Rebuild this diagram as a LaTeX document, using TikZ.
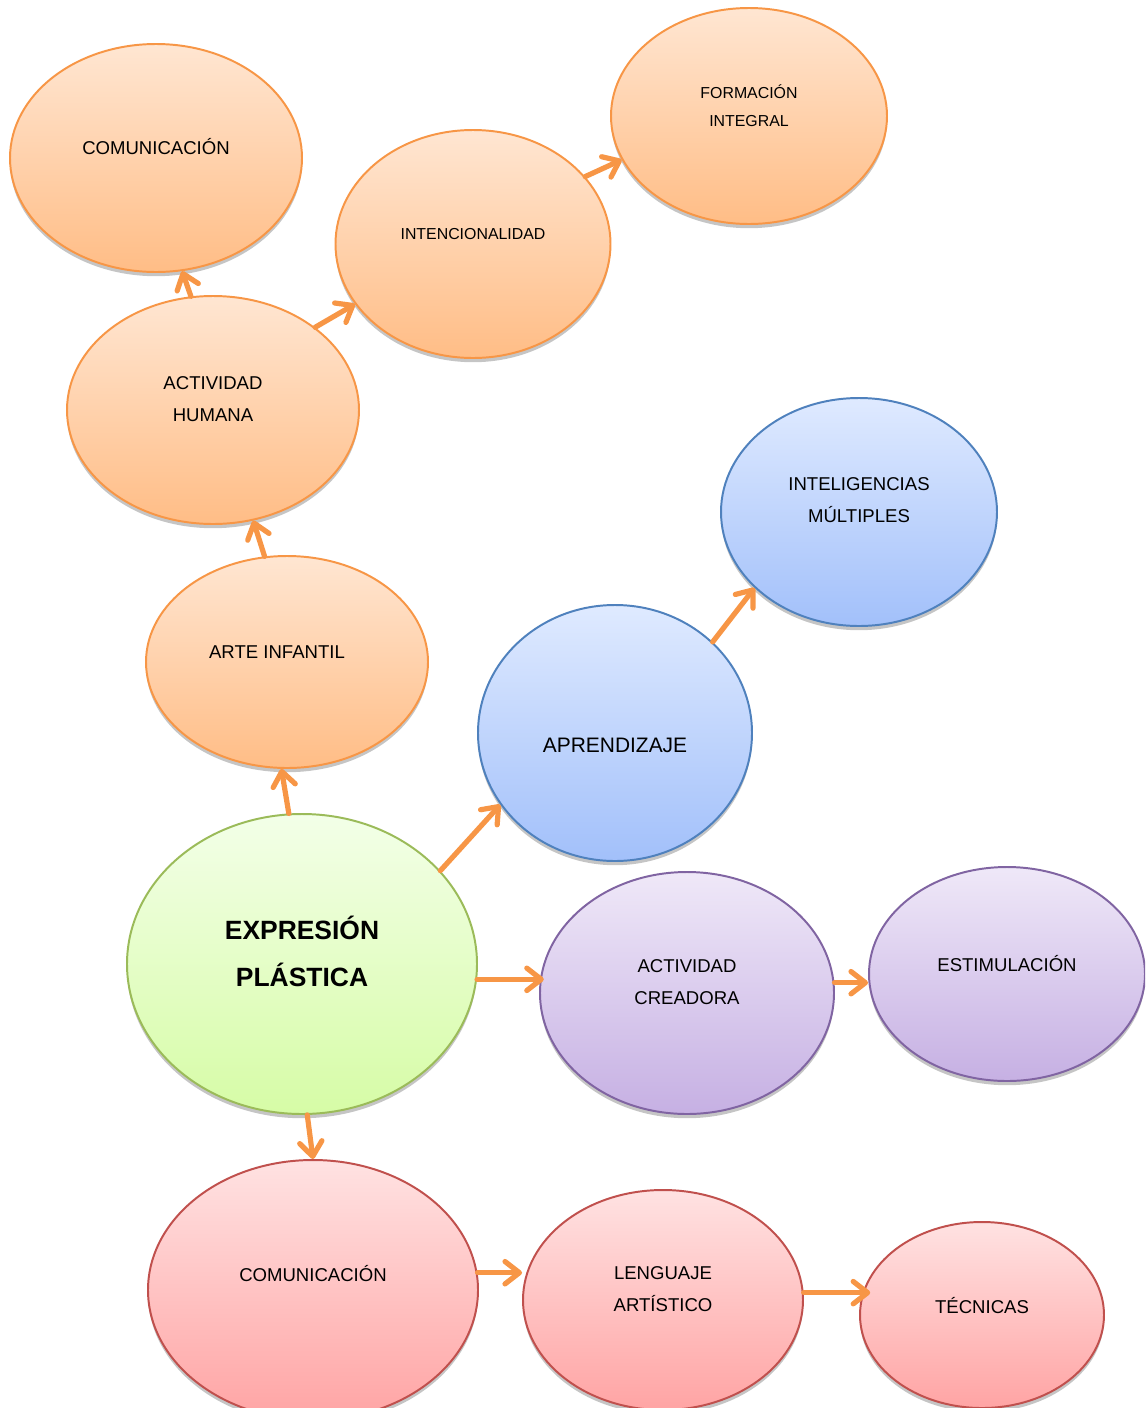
\documentclass[tikz,border=0pt]{standalone}
\usepackage{fontspec}
\setmainfont{Liberation Sans}
\usepackage{tikz}
\usetikzlibrary{arrows.meta,shadows,positioning,shapes.geometric}

\begin{document}
\begin{tikzpicture}
[x=0.025cm,y=-0.025cm,line cap=round,
% Styles
ellipse size/.style 2 args={minimum width=#1*0.025cm,minimum height=#2*0.025cm},
bubble/.style={ellipse,draw=#1line,line width=1.4pt,top color=#1top,bottom color=#1bottom,
  inner sep=0pt,drop shadow={shadow xshift=0pt,shadow yshift=-3pt,fill=black!45,opacity=.5}},
bubble text/.style={align=center,font=\fontsize{13.2pt}{22.8pt}\selectfont},
small text/.style={align=center,font=\fontsize{11.3pt}{20pt}\selectfont},
arrow line/.style={-{Straight Barb[length=3.6mm,width=5.6mm,round]},line width=3.7pt,arrowcolor}]
% Colors
\definecolor{orangetop}{HTML}{FFE6D2}
\definecolor{orangebottom}{HTML}{FFBD86}
\definecolor{orangeline}{HTML}{F79646}
\definecolor{bluetop}{HTML}{DFEAFF}
\definecolor{bluebottom}{HTML}{A2C0FA}
\definecolor{blueline}{HTML}{4F81BD}
\definecolor{purpletop}{HTML}{EFE8F8}
\definecolor{purplebottom}{HTML}{C6B0E3}
\definecolor{purpleline}{HTML}{8064A2}
\definecolor{greentop}{HTML}{F3FFE8}
\definecolor{greenbottom}{HTML}{D6FCA6}
\definecolor{greenline}{HTML}{9BBB59}
\definecolor{redtop}{HTML}{FFE2E2}
\definecolor{redbottom}{HTML}{FFA4A4}
\definecolor{redline}{HTML}{C0504D}
\definecolor{arrowcolor}{HTML}{F79646}
\useasboundingbox (0,0) rectangle (1145,1408);
\clip (0,0) rectangle (1145,1408);
% The bubbles
\node[bubble=orange,ellipse size={292}{228}] (com top) at (156,158) {};
\node[bubble=orange,ellipse size={275}{228}] (intencion) at (473,244) {};
\node[bubble=orange,ellipse size={276}{216}] (formacion) at (749,116) {};
\node[bubble=orange,ellipse size={292}{228}] (humana) at (213,410) {};
\node[bubble=blue,ellipse size={276}{228}] (inteligencias) at (859,512) {};
\node[bubble=orange,ellipse size={282}{212}] (arte) at (287,662) {};
\node[bubble=blue,ellipse size={274}{256}] (aprendizaje) at (615,733) {};
\node[bubble=green,ellipse size={350}{300}] (expresion) at (302,964) {};
\node[bubble=purple,ellipse size={294}{242}] (creadora) at (687,993) {};
\node[bubble=purple,ellipse size={276}{214}] (estimulo) at (1007,974) {};
\node[bubble=red,ellipse size={330}{260}] (com bottom) at (313,1290) {};
\node[bubble=red,ellipse size={280}{220}] (lenguaje) at (663,1300) {};
\node[bubble=red,ellipse size={244}{186}] (tecnicas) at (982,1315) {};
% The texts
\node[bubble text] (com top text) at (156,147) {COMUNICACIÓN};
\node[small text] (intencion text) at (473,234) {INTENCIONALIDAD};
\node[small text] (formacion text) at (749,106) {FORMACIÓN\\INTEGRAL};
\node[bubble text] (humana text) at (213,399) {ACTIVIDAD\\HUMANA};
\node[bubble text] (inteligencias text) at (859,500) {INTELIGENCIAS\\MÚLTIPLES};
\node[bubble text] (arte text) at (277,652) {ARTE INFANTIL};
\node[bubble text,font=\fontsize{14.9pt}{18pt}\selectfont] (aprendizaje text) at (615,745) {APRENDIZAJE};
\node[align=center,font=\fontsize{18.8pt}{33.4pt}\selectfont\bfseries] (expresion text) at (302,951) {EXPRESIÓN\\PLÁSTICA};
\node[bubble text] (creadora text) at (687,982) {ACTIVIDAD\\CREADORA};
\node[bubble text] (estimulo text) at (1007,964) {ESTIMULACIÓN};
\node[bubble text] (com bottom text) at (313,1274) {COMUNICACIÓN};
\node[bubble text] (lenguaje text) at (663,1289) {LENGUAJE\\ARTÍSTICO};
\node[bubble text] (tecnicas text) at (982,1306) {TÉCNICAS};
% The arrows
\draw[arrow line] (expresion.95) -- (arte.267);
\draw[arrow line] (arte.102) -- (humana.290);
\draw[arrow line] (humana.101) -- (com top.283);
\draw[arrow line] (humana.39) -- (intencion.207);
\draw[arrow line] (intencion.31) -- (formacion.199);
\draw[arrow line] (expresion.34) -- (aprendizaje.212);
\draw[arrow line] (aprendizaje.43) -- (inteligencias.216);
\draw[arrow line] (expresion.355) -- ([xshift=0.12cm]expresion.355 -| creadora.west);
\draw[arrow line] (creadora.4) -- (creadora.4 -| estimulo.west);
\draw[arrow line] (expresion.272) -- (com bottom.90);
\draw[arrow line] (com bottom.6) -- (com bottom.6 -| lenguaje.west);
\draw[arrow line] (lenguaje.3) -- ([xshift=0.28cm]lenguaje.3 -| tecnicas.west);
\end{tikzpicture}
\end{document}
